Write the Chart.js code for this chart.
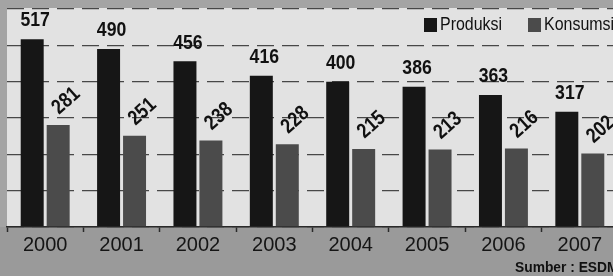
<!DOCTYPE html>
<html>
<head>
<meta charset="utf-8">
<script src="https://cdn.jsdelivr.net/npm/chart.js@4.4.1/dist/chart.umd.min.js"></script>
<style>
  html, body { margin: 0; padding: 0; overflow: hidden; background: #a2a2a2; }
  #wrap { position: absolute; left: 0; top: 0; width: 618px; height: 276px; }
</style>
</head>
<body>
<div id="wrap"><canvas id="energyChart"></canvas></div>
<script>
const years = ['2000', '2001', '2002', '2003', '2004', '2005', '2006', '2007'];
const produksi = [517, 490, 456, 416, 400, 386, 363, 317];
const konsumsi = [281, 251, 238, 228, 215, 213, 216, 202];
const seriesNames = ['Produksi', 'Konsumsi'];
const seriesColors = ['#161616', '#4b4b4b'];
const sourceText = 'Sumber : ESDM';

const sans = "'Liberation Sans', Arial, sans-serif";

// squeeze text sideways to look like the condensed print face
function narrowText(ctx, text, x, y, angle, squeeze) {
  ctx.save();
  ctx.translate(x, y);
  if (angle) ctx.rotate(angle);
  ctx.scale(squeeze || 0.84, 1);
  ctx.fillText(text, 0, 0);
  ctx.restore();
}

// backgrounds, value labels, legend and source note
const paperPlugin = {
  id: 'paper',
  beforeDraw(chart) {
    const { ctx, chartArea: a } = chart;
    ctx.save();
    ctx.fillStyle = '#a4a4a4';
    ctx.fillRect(0, 0, chart.width, chart.height);
    ctx.fillStyle = '#9a9a9a';
    ctx.fillRect(0, a.bottom, chart.width, chart.height - a.bottom);
    ctx.fillStyle = '#e2e2e2';
    ctx.fillRect(a.left, a.top - 1, a.right - a.left, a.bottom - a.top + 1);
    ctx.restore();
  },
  afterDatasetsDraw(chart) {
    const ctx = chart.ctx;
    ctx.save();
    ctx.fillStyle = '#111';

    // produksi values, upright
    ctx.font = 'bold 21px ' + sans;
    ctx.textAlign = 'center';
    ctx.textBaseline = 'bottom';
    chart.getDatasetMeta(0).data.forEach((bar, i) => {
      narrowText(ctx, produksi[i], bar.x + 3, bar.y - 8);
    });

    // konsumsi values, slanted
    ctx.textBaseline = 'middle';
    chart.getDatasetMeta(1).data.forEach((bar, i) => {
      narrowText(ctx, konsumsi[i], bar.x + 8, bar.y - 24, -42 * Math.PI / 180);
    });

    // legend
    ctx.font = '19px ' + sans;
    ctx.textAlign = 'left';
    const legendX = [424, 528];
    seriesNames.forEach((name, i) => {
      ctx.fillStyle = seriesColors[i];
      ctx.fillRect(legendX[i], 18, 13, 14);
      ctx.fillStyle = '#111';
      narrowText(ctx, name, legendX[i] + 16, 25);
    });

    // source
    ctx.font = 'bold 15px ' + sans;
    narrowText(ctx, sourceText, 515, 268, 0, 0.92);
    ctx.restore();
  }
};

new Chart(document.getElementById('energyChart'), {
  type: 'bar',
  data: {
    labels: years,
    datasets: [
      {
        label: seriesNames[0],
        data: produksi,
        backgroundColor: seriesColors[0],
        categoryPercentage: 0.68,
        barPercentage: 0.885,
      },
      {
        label: seriesNames[1],
        data: konsumsi,
        backgroundColor: seriesColors[1],
        categoryPercentage: 0.68,
        barPercentage: 0.885,
      },
    ],
  },
  options: {
    responsive: true,
    maintainAspectRatio: false,
    animation: false,
    layout: { padding: { left: 7, top: 9, right: 0, bottom: 0 } },
    plugins: {
      legend: { display: false },
      tooltip: { enabled: false },
    },
    scales: {
      x: {
        grid: {
          offset: true,
          drawOnChartArea: false,
          drawTicks: true,
          tickLength: 5,
          tickColor: '#2a2a2a',
          tickWidth: 1.5,
        },
        border: { display: true, color: '#2a2a2a', width: 1.5 },
        ticks: {
          color: '#151515',
          padding: 1,
          font: { family: sans, size: 20 },
        },
        afterFit(scale) {
          scale.height = 49;
        },
      },
      y: {
        min: 0,
        max: 600,
        ticks: { display: false, stepSize: 100 },
        grid: { color: '#474747', lineWidth: 1.3, drawTicks: false },
        border: { display: false, dash: [17, 8] },
        afterFit(scale) {
          scale.width = 0;
        },
      },
    },
  },
  plugins: [paperPlugin],
});
</script>
</body>
</html>
